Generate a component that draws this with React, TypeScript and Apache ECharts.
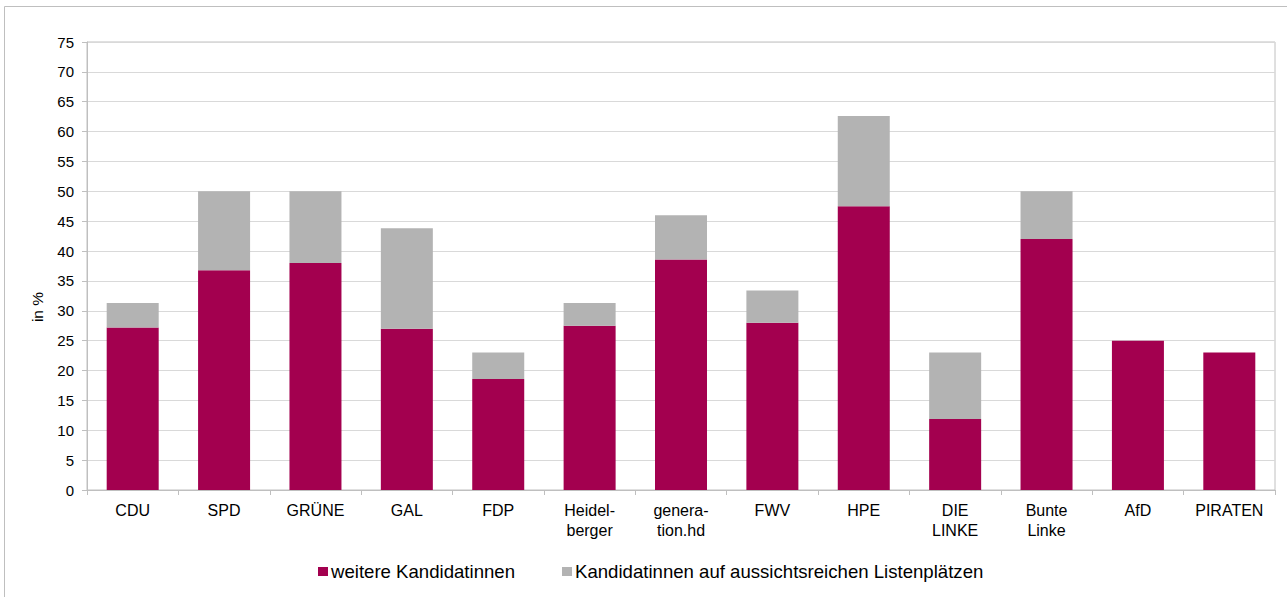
import React, { useEffect, useRef } from "react";
import * as echarts from "echarts";

const categories = ["CDU", "SPD", "GRÜNE", "GAL", "FDP", "Heidel-\nberger", "genera-\ntion.hd", "FWV", "HPE", "DIE\nLINKE", "Bunte\nLinke", "AfD", "PIRATEN"];
const weitere = [27.2, 36.8, 38.0, 27.0, 18.6, 27.5, 38.6, 28.0, 47.5, 11.9, 42.0, 25.0, 23.0];
const aussichtsreich = [4.1, 13.2, 12.0, 16.8, 4.4, 3.8, 7.4, 5.4, 15.1, 11.1, 8.0, 0, 0];
const yTicks = { min: 0, max: 75, interval: 5 };

export default function App() {
  const ref = useRef<HTMLDivElement>(null);
  useEffect(() => {
    if (!ref.current) return;
    const chart = echarts.init(ref.current, null, { renderer: "svg" });
    const font = "Liberation Sans, Arial, sans-serif";
    chart.setOption({
      animation: false,
      backgroundColor: "#ffffff",
      textStyle: { fontFamily: font },
      grid: { left: 87, top: 42, right: 12, bottom: 107, show: true, borderColor: "#c0c0c0", borderWidth: 1 },
      xAxis: {
        type: "category",
        data: categories,
        axisLine: { lineStyle: { color: "#bfbfbf", width: 1 } },
        axisTick: { show: true, length: 5, lineStyle: { color: "#bfbfbf" } },
        axisLabel: { color: "#000", fontSize: 16, margin: 10, lineHeight: 20, fontFamily: font, interval: 0 },
      },
      yAxis: {
        type: "value",
        min: yTicks.min,
        max: yTicks.max,
        interval: yTicks.interval,
        axisLine: { show: true, lineStyle: { color: "#bfbfbf", width: 1 } },
        axisTick: { show: true, length: 5, lineStyle: { color: "#bfbfbf" } },
        axisLabel: { color: "#000", fontSize: 15, margin: 13, fontFamily: font },
        splitLine: { lineStyle: { color: "#d9d9d9", width: 1 } },
      },
      legend: {
        left: 313,
        top: 557,
        icon: "rect",
        itemWidth: 10,
        itemHeight: 9,
        itemGap: 47,
        textStyle: { color: "#000", fontSize: 18.6, fontFamily: font, padding: [0, 0, 0, -2] },
        data: ["weitere Kandidatinnen", "Kandidatinnen auf aussichtsreichen Listenplätzen"],
      },
      series: [
        {
          name: "weitere Kandidatinnen",
          type: "bar",
          stack: "a",
          data: weitere,
          barWidth: 52,
          itemStyle: { color: "#a3004f" },
        },
        {
          name: "Kandidatinnen auf aussichtsreichen Listenplätzen",
          type: "bar",
          stack: "a",
          data: aussichtsreich,
          barWidth: 52,
          itemStyle: { color: "#b3b3b3" },
        },
      ],
      graphic: [
        {
          type: "rect",
          shape: { x: 4.5, y: 6.5, width: 1300, height: 620 },
          style: { fill: "none", stroke: "#bfbfbf", lineWidth: 1 },
          silent: true,
        },
        {
          type: "text",
          x: 37,
          y: 307,
          rotation: Math.PI / 2,
          style: { text: "in %", fontSize: 15.5, fontFamily: font, fill: "#000", align: "center", verticalAlign: "middle" },
        },
      ],
    });
    return () => chart.dispose();
  }, []);
  return <div ref={ref} style={{ position: "fixed", left: 0, top: 0, width: 1287, height: 597 }} />;
}
